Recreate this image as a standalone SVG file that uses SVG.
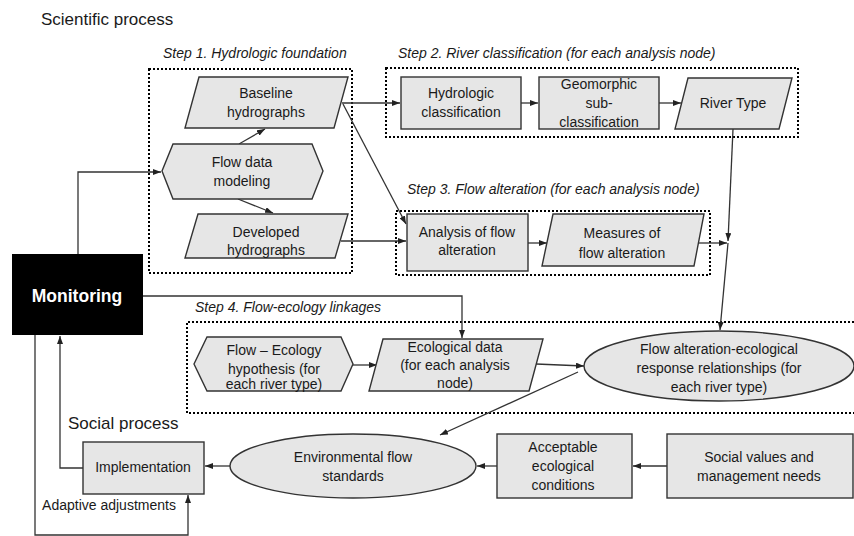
<svg xmlns="http://www.w3.org/2000/svg" width="854" height="536" viewBox="0 0 854 536">
  <style>
    .shape { fill: #e6e6e6; stroke: #333333; stroke-width: 1.4; }
    .group { fill: none; stroke: #000000; stroke-width: 2; stroke-dasharray: 2 2; }
    .t { font-family: "Liberation Sans", Arial, sans-serif; font-size: 14px; fill: #1a1a1a; text-anchor: middle; }
    .step { font-family: "Liberation Sans", Arial, sans-serif; font-size: 14px; font-style: italic; fill: #1a1a1a; }
    .head { font-family: "Liberation Sans", Arial, sans-serif; font-size: 17px; fill: #1a1a1a; }
    .link { fill: none; stroke: #333333; stroke-width: 1.3; }
    .arrow { marker-end: url(#arr); }
  </style>
  <defs>
    <marker id="arr" viewBox="0 0 8 6" refX="8" refY="3" markerWidth="8" markerHeight="6" markerUnits="userSpaceOnUse" orient="auto">
      <path d="M0,0 L8,3 L0,6 z" fill="#222222"/>
    </marker>
  </defs>

  <rect width="854" height="536" fill="#ffffff"/>

  <!-- section headings -->
  <text class="head" x="41" y="25">Scientific process</text>
  <text class="head" x="68" y="429">Social process</text>

  <!-- step groupings (dotted frames) -->
  <g id="step1">
    <text class="step" x="163" y="58">Step 1. Hydrologic foundation</text>
    <rect class="group" x="149" y="69" width="203" height="204"/>
  </g>
  <g id="step2">
    <text class="step" x="398" y="58">Step 2. River classification (for each analysis node)</text>
    <rect class="group" x="386" y="68" width="412" height="69"/>
  </g>
  <g id="step3">
    <text class="step" x="407" y="194">Step 3. Flow alteration (for each analysis node)</text>
    <rect class="group" x="396" y="211" width="314" height="64"/>
  </g>
  <g id="step4">
    <text class="step" x="195" y="312">Step 4. Flow-ecology linkages</text>
    <path class="group" d="M854,322 H187 V413 H854"/>
  </g>

  <!-- connectors -->
  <g id="connectors">
    <path class="link arrow" d="M78,254 V172 H161"/>
    <path class="link arrow" d="M239,144 L265,129"/>
    <path class="link arrow" d="M238,199 L273,213"/>
    <path class="link arrow" d="M342,103 H400"/>
    <path class="link arrow" d="M343,104 L406,224"/>
    <path class="link arrow" d="M341,241 H406"/>
    <path class="link arrow" d="M521,103 H538"/>
    <path class="link arrow" d="M659,103 H681"/>
    <path class="link arrow" d="M528,243 H547"/>
    <path class="link arrow" d="M733,129 L728,241"/>
    <path class="link arrow" d="M698,243 H727"/>
    <path class="link arrow" d="M728,243 L720,330"/>
    <path class="link arrow" d="M143,296 H462 V338"/>
    <path class="link arrow" d="M353,365 H377"/>
    <path class="link arrow" d="M536,364 L584,366"/>
    <path class="link arrow" d="M578,372 L440,435"/>
    <path class="link arrow" d="M667,466 H633"/>
    <path class="link arrow" d="M497,466 H477"/>
    <path class="link arrow" d="M230,466 H205"/>
    <path class="link arrow" d="M83,468 H60 V336"/>
    <path class="link arrow" d="M35,335 V535 H188 V495"/>
  </g>

  <!-- nodes -->
  <g id="monitoring">
    <rect x="12" y="254" width="131" height="81" fill="#000000"/>
    <text x="77" y="302" font-family="'Liberation Sans', Arial, sans-serif" font-size="17.5" font-weight="bold" fill="#ffffff" text-anchor="middle">Monitoring</text>
  </g>

  <g id="baseline-hydrographs">
    <polygon class="shape" points="199,77 348,77 334,128 185,128"/>
    <text class="t" x="266" y="98">Baseline</text>
    <text class="t" x="266" y="117">hydrographs</text>
  </g>

  <g id="flow-data-modeling">
    <polygon class="shape" points="162,171 173,144 312,144 323,171 312,199 173,199"/>
    <text class="t" x="242" y="167">Flow data</text>
    <text class="t" x="242" y="186">modeling</text>
  </g>

  <g id="developed-hydrographs">
    <polygon class="shape" points="198,214 348,214 335,258 185,258"/>
    <text class="t" x="266" y="237">Developed</text>
    <text class="t" x="266" y="255">hydrographs</text>
  </g>

  <g id="hydrologic-classification">
    <rect class="shape" x="401" y="77" width="120" height="52"/>
    <text class="t" x="461" y="98">Hydrologic</text>
    <text class="t" x="461" y="117">classification</text>
  </g>

  <g id="geomorphic-subclassification">
    <rect class="shape" x="539" y="77" width="120" height="52"/>
    <text class="t" x="599" y="89">Geomorphic</text>
    <text class="t" x="599" y="108">sub-</text>
    <text class="t" x="599" y="127">classification</text>
  </g>

  <g id="river-type">
    <polygon class="shape" points="688,78 792,78 779,129 675,129"/>
    <text class="t" x="733" y="108">River Type</text>
  </g>

  <g id="analysis-flow-alteration">
    <rect class="shape" x="407" y="214" width="121" height="57"/>
    <text class="t" x="467" y="237">Analysis of flow</text>
    <text class="t" x="467" y="255">alteration</text>
  </g>

  <g id="measures-flow-alteration">
    <polygon class="shape" points="553,214 704,214 694,266 542,266"/>
    <text class="t" x="622" y="238">Measures of</text>
    <text class="t" x="622" y="258">flow alteration</text>
  </g>

  <g id="flow-ecology-hypothesis">
    <polygon class="shape" points="194,364 207,337 341,337 353,364 341,391 207,391"/>
    <text class="t" x="274" y="355">Flow – Ecology</text>
    <text class="t" x="274" y="374">hypothesis (for</text>
    <text class="t" x="274" y="389">each river type)</text>
  </g>

  <g id="ecological-data">
    <polygon class="shape" points="383,339 543,339 529,391 369,391"/>
    <text class="t" x="455" y="352">Ecological data</text>
    <text class="t" x="455" y="370">(for each analysis</text>
    <text class="t" x="455" y="388">node)</text>
  </g>

  <g id="flow-alteration-ecological-response">
    <ellipse class="shape" cx="719" cy="366" rx="135" ry="35"/>
    <text class="t" x="719" y="354">Flow alteration-ecological</text>
    <text class="t" x="719" y="373">response relationships (for</text>
    <text class="t" x="719" y="392">each river type)</text>
  </g>

  <g id="environmental-flow-standards">
    <ellipse class="shape" cx="353" cy="466" rx="123" ry="32"/>
    <text class="t" x="353" y="462">Environmental flow</text>
    <text class="t" x="353" y="481">standards</text>
  </g>

  <g id="implementation">
    <rect class="shape" x="83" y="442" width="121" height="52"/>
    <text class="t" x="143" y="472">Implementation</text>
  </g>

  <g id="acceptable-ecological-conditions">
    <rect class="shape" x="497" y="434" width="135" height="64"/>
    <text class="t" x="563" y="452">Acceptable</text>
    <text class="t" x="563" y="471">ecological</text>
    <text class="t" x="563" y="490">conditions</text>
  </g>

  <g id="social-values">
    <rect class="shape" x="667" y="434" width="186" height="64"/>
    <text class="t" x="759" y="462">Social values and</text>
    <text class="t" x="759" y="481">management needs</text>
  </g>

  <text class="t" x="109" y="510">Adaptive adjustments</text>
</svg>
